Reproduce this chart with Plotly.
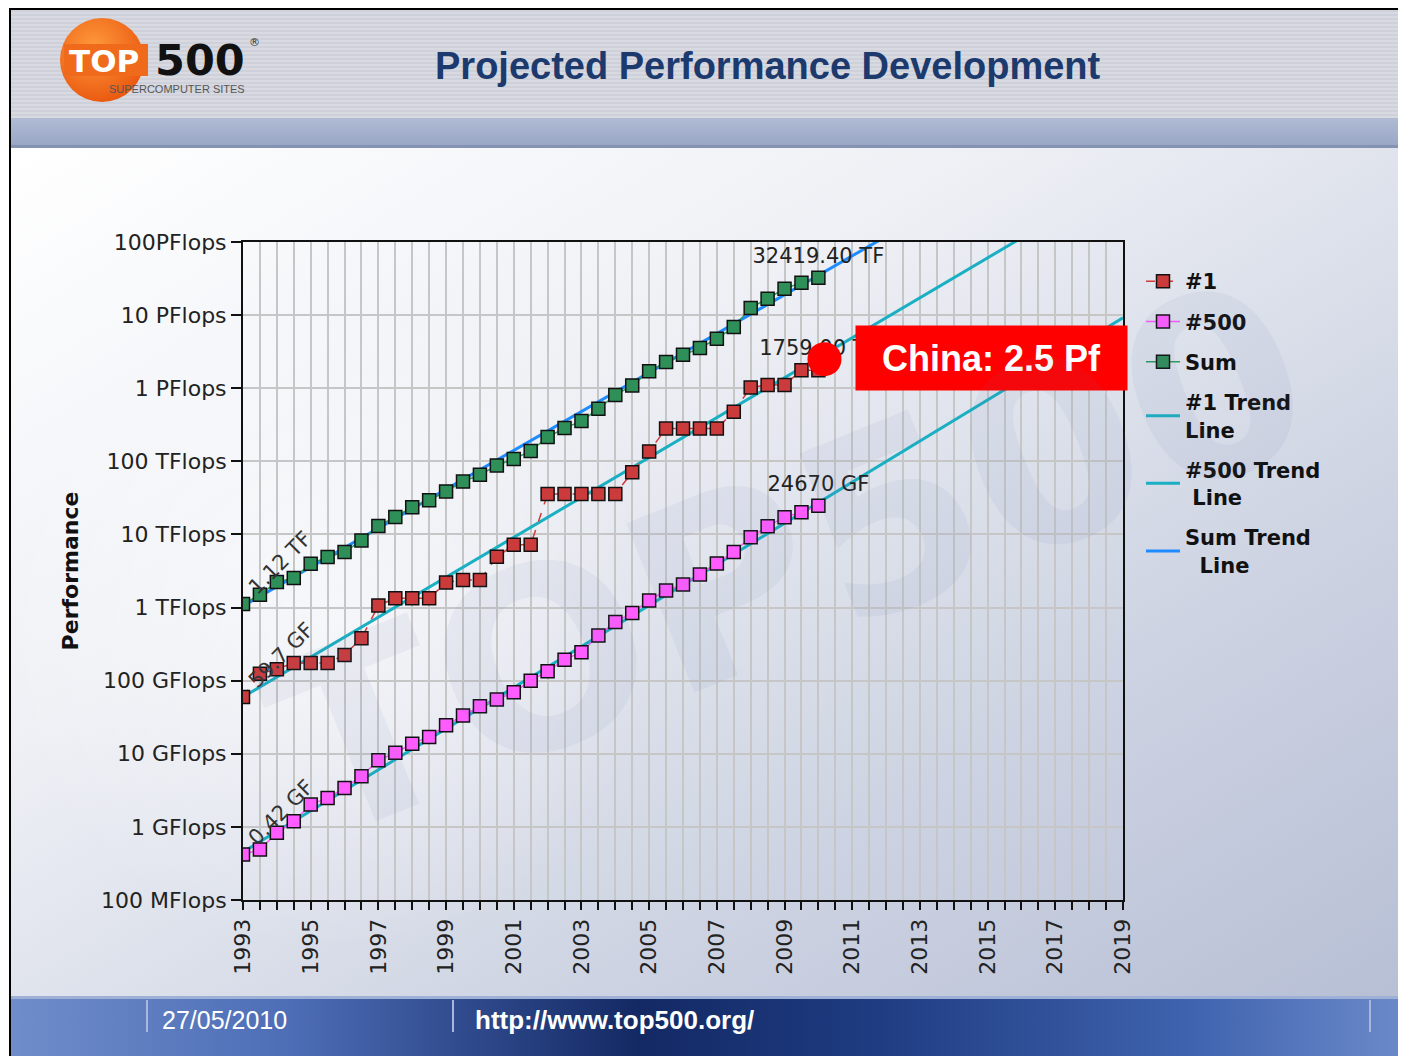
import base64
import numpy as np
import plotly.graph_objects as go

# ---------------- data (values in GFlops) ----------------
list_pos = [1993.0, 1993.5, 1994.0, 1994.5, 1995.0, 1995.5, 1996.0, 1996.5, 1997.0, 1997.5,
            1998.0, 1998.5, 1999.0, 1999.5, 2000.0, 2000.5, 2001.0, 2001.5, 2002.0, 2002.5,
            2003.0, 2003.5, 2004.0, 2004.5, 2005.0, 2005.5, 2006.0, 2006.5, 2007.0, 2007.5,
            2008.0, 2008.5, 2009.0, 2009.5, 2010.0]
rank1_gf = [59.7, 124.5, 143.4, 175, 175, 175, 225, 380, 1068, 1338,
            1338, 1338, 2200, 2379, 2379, 4938, 7226, 7226, 35860, 35860,
            35860, 35860, 35860, 70720, 136800, 280600, 280600, 280600, 280600, 478200,
            1026000, 1105000, 1105000, 1759000, 1759000]
rank500_gf = [0.42, 0.49, 0.83, 1.19, 2.02, 2.49, 3.41, 4.93, 8.16, 10.3,
              13.7, 17.0, 24.6, 33.4, 44.7, 55.3, 69.5, 100, 135, 194,
              245, 414, 637, 845, 1250, 1712, 2067, 2832, 4010, 5770,
              9160, 12980, 17210, 20190, 24670]
sum_gf = [1120, 1500, 2230, 2530, 3960, 4910, 5740, 8290, 13000, 17300,
          23600, 29300, 38800, 52800, 65400, 88000, 108000, 138000, 215000, 285000,
          355000, 523000, 807000, 1093000, 1700000, 2280000, 2870000, 3540000, 4750000, 6870000,
          12500000, 16700000, 22900000, 27800000, 32419400]

trend_years = [1993, 2019]
trend1_gf = [59.8, 7.5e8]
trend500_gf = [0.454, 9.2e6]
trendsum_gf = [1050, 8.7e9]

start_labels = ["1.12 TF", "59.7 GF", "0.42 GF"]
end_labels = ["32419.40 TF", "1759.00 TF", "24670 GF"]

china_pos = [2010.18]
china_gf = [2.5e6]
china_label = "China: 2.5 Pf"

y_tick_vals = [1e-1, 1, 10, 100, 1e3, 1e4, 1e5, 1e6, 1e7, 1e8]
y_tick_text = ["100 MFlops", "1 GFlops", "10 GFlops", "100 GFlops", "1 TFlops",
               "10 TFlops", "100 TFlops", "1 PFlops", "10 PFlops", "100PFlops"]

# ---------------- geometry helpers (window pixel coords) ----------------
WIN_W, WIN_H = 1406, 1056
OFF = 8                      # page body margin
W, H = WIN_W - OFF, WIN_H - OFF
L, R, T, B = 243, 1123, 242, 900


def px(x):
    return (x - L) / (R - L)


def py(y):
    return (B - y) / (B - T)


# ---------------- background (decoration only, no text) ----------------
svg = f"""<svg xmlns='http://www.w3.org/2000/svg' width='{W}' height='{H}'>
<defs>
<pattern id='st' width='4' height='4' patternUnits='userSpaceOnUse'>
<rect width='4' height='4' fill='#D8D9E1'/><rect y='2' width='4' height='2' fill='#CFD1DA'/></pattern>
<linearGradient id='band' x1='0' y1='0' x2='0' y2='1'>
<stop offset='0' stop-color='#B0BBD4'/><stop offset='1' stop-color='#97A5C4'/></linearGradient>
<linearGradient id='main' x1='0' y1='0' x2='1' y2='1'>
<stop offset='0' stop-color='#FFFFFF'/><stop offset='0.35' stop-color='#EEF0F5'/>
<stop offset='0.7' stop-color='#CDD3E2'/><stop offset='1' stop-color='#B7BFD5'/></linearGradient>
<radialGradient id='glow' cx='0.5' cy='0.5' r='0.5'>
<stop offset='0' stop-color='#FFFFFF' stop-opacity='0.55'/><stop offset='1' stop-color='#FFFFFF' stop-opacity='0'/></radialGradient>
<linearGradient id='foot' x1='0' y1='0' x2='1' y2='0'>
<stop offset='0' stop-color='#6F8DCA'/><stop offset='0.2' stop-color='#4D6DB6'/>
<stop offset='0.45' stop-color='#132964'/><stop offset='0.62' stop-color='#1F3C82'/>
<stop offset='0.85' stop-color='#4064AF'/><stop offset='1' stop-color='#6C8ACA'/></linearGradient>
<radialGradient id='logo' cx='0.4' cy='0.35' r='0.7'>
<stop offset='0' stop-color='#FF9A3C'/><stop offset='1' stop-color='#E9560E'/></radialGradient>
</defs>
<rect width='{W}' height='{H}' fill='#FFFFFF'/>
<g transform='translate(-{OFF},-{OFF})'>
<rect x='11' y='8' width='1395' height='110' fill='url(#st)'/>
<rect x='11' y='118' width='1395' height='30' fill='url(#band)'/>
<rect x='11' y='145' width='1395' height='3' fill='#8593B2'/>
<rect x='11' y='148' width='1395' height='852' fill='url(#main)'/>
<ellipse cx='330' cy='620' rx='330' ry='330' fill='url(#glow)'/>
<rect x='11' y='996' width='1395' height='60' fill='url(#foot)'/>
<rect x='11' y='996' width='1395' height='3' fill='#9FB0D6'/>
<rect x='146' y='1000' width='2' height='32' fill='#A9B8DA'/>
<rect x='452' y='1000' width='2' height='32' fill='#A9B8DA'/>
<rect x='1369' y='1000' width='2' height='32' fill='#A9B8DA'/>
<circle cx='102' cy='60' r='42' fill='url(#logo)'/>
<rect x='64' y='44' width='84' height='32' fill='#F06A1C'/>
<rect x='10' y='8' width='1396' height='2' fill='#000000'/>
<rect x='9' y='8' width='2' height='1048' fill='#000000'/>
</g>
</svg>"""
bg_src = "data:image/svg+xml;base64," + base64.b64encode(svg.encode()).decode()

# ---------------- figure ----------------
fig = go.Figure()

trend_col = "#1AAFC2"
sum_trend_col = "#1E8CFF"

fig.add_trace(go.Scatter(x=trend_years, y=trend1_gf, mode="lines", name="#1 Trend<br>Line",
                         line=dict(color=trend_col, width=3), legendrank=4, legendgroup="t1"))
fig.add_trace(go.Scatter(x=trend_years, y=trend500_gf, mode="lines", name="#500 Trend<br>\u00a0Line",
                         line=dict(color=trend_col, width=3), legendrank=5, legendgroup="t500"))
fig.add_trace(go.Scatter(x=trend_years, y=trendsum_gf, mode="lines", name="Sum Trend<br>\u00a0\u00a0Line",
                         line=dict(color=sum_trend_col, width=3), legendrank=6, legendgroup="tsum"))

mk = dict(symbol="square", size=13, line=dict(color="#111111", width=1.5))
fig.add_trace(go.Scatter(x=list_pos, y=rank1_gf, mode="lines+markers", name="#1",
                         line=dict(color="#D23A3A", width=1.5, dash="dash"),
                         marker=dict(color="#CC3B3B", **mk), legendrank=1, legendgroup="r1"))
fig.add_trace(go.Scatter(x=list_pos, y=rank500_gf, mode="lines+markers", name="#500",
                         line=dict(color="#FF55FF", width=1.5),
                         marker=dict(color="#FF5CFF", **mk), legendrank=2, legendgroup="r500"))
fig.add_trace(go.Scatter(x=list_pos, y=sum_gf, mode="lines+markers", name="Sum",
                         line=dict(color="#2E9A5C", width=1.5),
                         marker=dict(color="#2F8F58", **mk), legendrank=3, legendgroup="sum"))

# value labels at last list
fig.add_trace(go.Scatter(x=[list_pos[-1]] * 3, y=[sum_gf[-1], rank1_gf[-1], rank500_gf[-1]],
                         mode="markers+text", text=end_labels, textposition="top center",
                         textfont=dict(family="DejaVu Sans", size=21, color="#222222"),
                         marker=dict(size=14, opacity=0), showlegend=False, hoverinfo="skip"))

# China dot
fig.add_trace(go.Scatter(x=china_pos, y=china_gf, mode="markers",
                         marker=dict(color="#FF0000", size=34, line=dict(width=0)),
                         showlegend=False, hoverinfo="skip"))

annotations = []
# rotated first-value labels
for lab, val in zip(start_labels, [sum_gf[0], rank1_gf[0], rank500_gf[0]]):
    annotations.append(dict(x=list_pos[0], y=np.log10(val), xref="x", yref="y", text=lab,
                            showarrow=False, textangle=-45, xanchor="left", yanchor="bottom",
                            xshift=-2, yshift=2,
                            font=dict(family="DejaVu Sans", size=21, color="#333333")))

# China box
annotations.append(dict(x=px(991.5), y=py(358), xref="paper", yref="paper", text="<b>" + china_label + "</b>",
                        showarrow=False, bgcolor="#FF0000", width=263, height=56, borderpad=4,
                        font=dict(family="Liberation Sans, Arial", size=36, color="#FFFFFF"),
                        xanchor="center", yanchor="middle"))

# slide title
annotations.append(dict(x=px(768), y=py(66), xref="paper", yref="paper",
                        text="<b>Projected Performance Development</b>", showarrow=False,
                        font=dict(family="Liberation Sans, Arial", size=38, color="#1C3A6E"),
                        xanchor="center", yanchor="middle"))
# logo texts
annotations.append(dict(x=px(104), y=py(61), xref="paper", yref="paper", text="<b>TOP</b>",
                        showarrow=False, font=dict(family="DejaVu Sans", size=31, color="#FFFFFF"),
                        xanchor="center", yanchor="middle"))
annotations.append(dict(x=px(200), y=py(60), xref="paper", yref="paper", text="<b>500</b>",
                        showarrow=False, font=dict(family="DejaVu Sans", size=43, color="#111111"),
                        xanchor="center", yanchor="middle"))
annotations.append(dict(x=px(254), y=py(42), xref="paper", yref="paper", text="®",
                        showarrow=False, font=dict(family="DejaVu Sans", size=11, color="#333333"),
                        xanchor="center", yanchor="middle"))
annotations.append(dict(x=px(177), y=py(89), xref="paper", yref="paper", text="SUPERCOMPUTER SITES",
                        showarrow=False, font=dict(family="Liberation Sans", size=11,
                                                   color="#555555"), xanchor="center", yanchor="middle"))
# footer
annotations.append(dict(x=px(160), y=py(1020), xref="paper", yref="paper", text="27/05/2010",
                        showarrow=False, font=dict(family="Liberation Sans", size=25,
                                                   color="#FFFFFF"), xanchor="left", yanchor="middle"))
annotations.append(dict(x=px(473), y=py(1020), xref="paper", yref="paper", text="<b>http://www.top500.org/</b>",
                        showarrow=False, font=dict(family="Liberation Sans", size=26,
                                                   color="#FFFFFF"), xanchor="left", yanchor="middle"))
# faint watermark
annotations.append(dict(x=px(790), y=py(560), xref="paper", yref="paper", text="<b>TOP500</b>",
                        showarrow=False, textangle=-22,
                        font=dict(family="DejaVu Sans", size=250, color="rgba(105,120,165,0.07)"),
                        xanchor="center", yanchor="middle"))

fig.update_layout(
    width=W, height=H,
    margin=dict(l=L - OFF, r=WIN_W - R, t=T - OFF, b=WIN_H - B),
    paper_bgcolor="#FFFFFF",
    plot_bgcolor="rgba(0,0,0,0)",
    showlegend=True,
    legend=dict(x=px(1141), y=py(261), xanchor="left", yanchor="top",
                font=dict(family="DejaVu Sans", size=21, color="#111111", weight="bold"),
                bgcolor="rgba(0,0,0,0)", tracegroupgap=10, itemwidth=34,
                traceorder="grouped"),
    images=[dict(source=bg_src, xref="paper", yref="paper", x=px(OFF), y=py(OFF),
                 sizex=W / (R - L), sizey=H / (B - T), xanchor="left", yanchor="top",
                 sizing="stretch", layer="below")],
    annotations=annotations,
    xaxis=dict(range=[1993, 2019], tick0=1993, dtick=2, tickangle=-90,
               showgrid=True, gridcolor="#C6C6C6", gridwidth=2,
               ticks="outside", ticklen=8, tickwidth=1.5, tickcolor="#111111",
               showline=True, linecolor="#111111", linewidth=2, mirror=True,
               tickfont=dict(family="DejaVu Sans", size=22, color="#222222"),
               minor=dict(dtick=0.5, showgrid=True, gridcolor="#C6C6C6", gridwidth=2,
                          ticks="outside", ticklen=8, tickcolor="#111111", tickwidth=1.5),
               zeroline=False),
    yaxis=dict(type="log", range=[-1, 8], tickvals=y_tick_vals, ticktext=y_tick_text,
               showgrid=True, gridcolor="#C6C6C6", gridwidth=2,
               ticks="outside", ticklen=10, tickwidth=1.5, tickcolor="#111111",
               showline=True, linecolor="#111111", linewidth=2, mirror=True,
               tickfont=dict(family="DejaVu Sans", size=22, color="#222222"),
               title=dict(text="<b>Performance</b>", standoff=16,
                          font=dict(family="DejaVu Sans", size=22, color="#111111")),
               automargin=True, zeroline=False),
)

fig.write_html("out.html")
